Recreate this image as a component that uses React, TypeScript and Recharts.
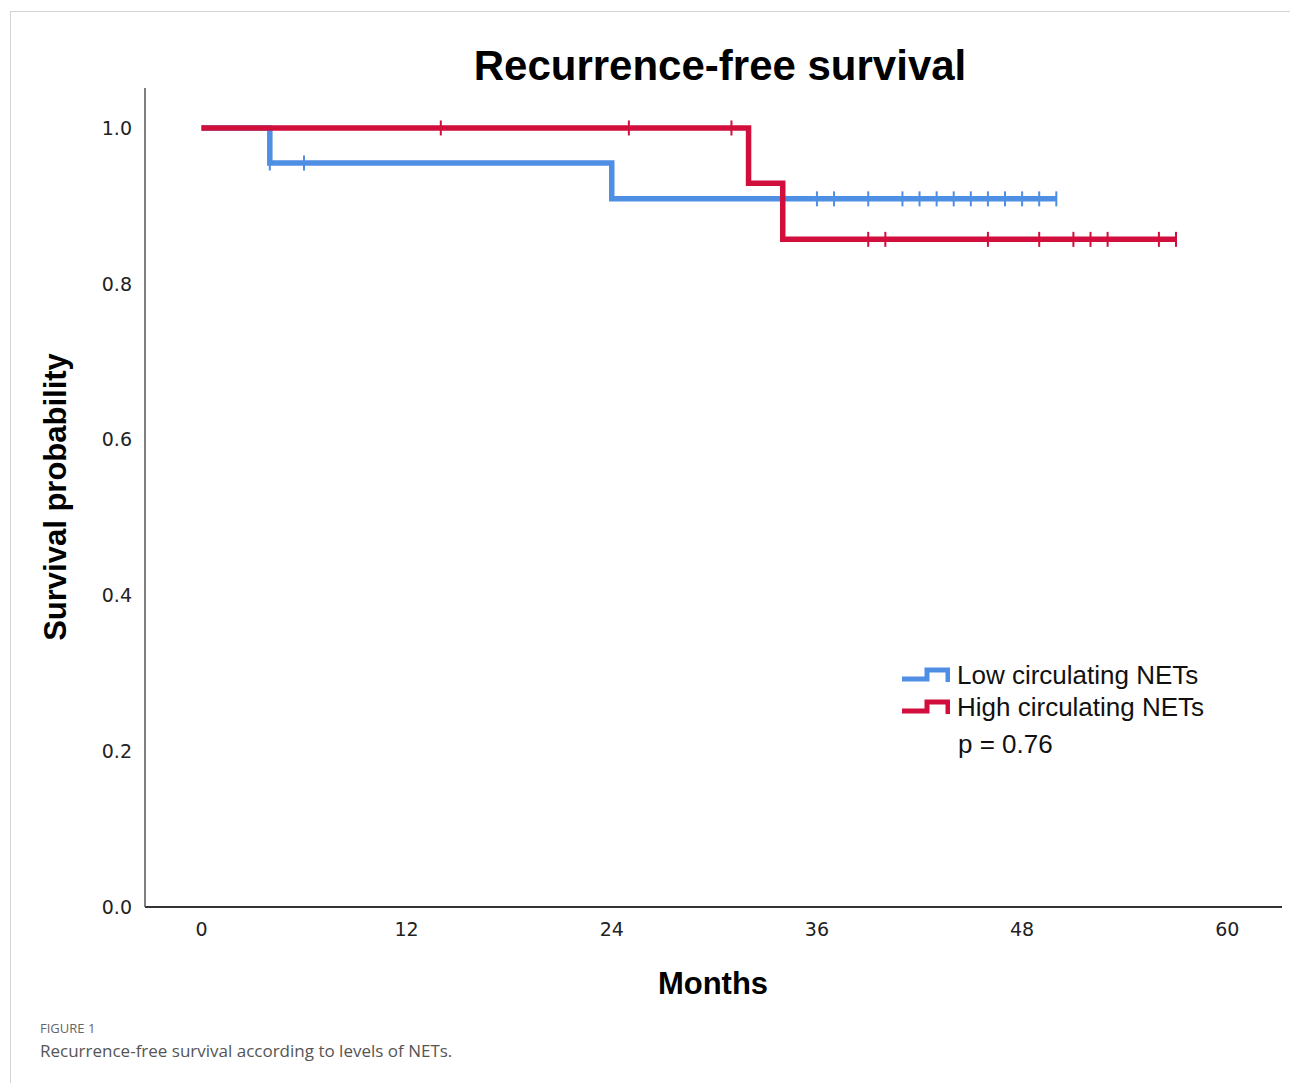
import { ComposedChart, Line, Scatter, XAxis, YAxis } from 'recharts';

// months of follow-up
const monthTicks = [0, 12, 24, 36, 48, 60];
const probTicks = [0, 0.2, 0.4, 0.6, 0.8, 1.0];

const seriesNames = ['Low circulating NETs', 'High circulating NETs'];
const pValueText = 'p = 0.76';

// Low circulating NETs: step changes and censored patients
const lowEventMonths = [0, 4, 24];
const lowSurvival = [1.0, 0.955, 0.909];
const lowCensored = [4, 6, 36, 37, 39, 41, 42, 43, 44, 45, 46, 47, 48, 49, 50];

// High circulating NETs
const highEventMonths = [0, 32, 34];
const highSurvival = [1.0, 0.929, 0.857];
const highCensored = [14, 25, 31, 39, 40, 46, 49, 51, 52, 53, 56, 57];

const BLUE = '#4f8fe3';
const RED = '#d20f3c';

function survivalAt(months: number[], surv: number[], t: number) {
  let s = surv[0];
  months.forEach((m, i) => {
    if (m <= t) s = surv[i];
  });
  return s;
}

function stepData(months: number[], surv: number[], censored: number[]) {
  const last = Math.max(...censored);
  const pts = months.map((m, i) => ({ month: m, p: surv[i] }));
  pts.push({ month: last, p: survivalAt(months, surv, last) });
  return pts;
}

function censorData(months: number[], surv: number[], censored: number[]) {
  return censored.map((m) => ({ month: m, p: survivalAt(months, surv, m) }));
}

const lowLine = stepData(lowEventMonths, lowSurvival, lowCensored);
const highLine = stepData(highEventMonths, highSurvival, highCensored);
const lowMarks = censorData(lowEventMonths, lowSurvival, lowCensored);
const highMarks = censorData(highEventMonths, highSurvival, highCensored);

const censorTick = (color: string) => (props: any) => (
  <line
    x1={props.cx}
    x2={props.cx}
    y1={props.cy - 7.5}
    y2={props.cy + 7.5}
    stroke={color}
    strokeWidth={2}
  />
);

function StepIcon({ color }: { color: string }) {
  return (
    <svg width={50} height={22} style={{ display: 'block' }}>
      <polyline
        points="2,15 27,15 27,6 48,6 48,18"
        fill="none"
        stroke={color}
        strokeWidth={5}
      />
    </svg>
  );
}

const tickStyle = { fill: '#222', fontSize: 19, fontFamily: '"DejaVu Sans", sans-serif' };

export default function App() {
  return (
    <div style={{ position: 'absolute', left: 0, top: 0, width: 1290, height: 1083, background: '#fff' }}>
      <div
        style={{
          position: 'absolute',
          left: 10,
          top: 11,
          width: 1300,
          height: 1100,
          borderTop: '1px solid #d4d4d4',
          borderLeft: '1px solid #d4d4d4',
        }}
      />
      <ComposedChart
        width={1290}
        height={1083}
        margin={{ top: 88, right: 8, left: 85, bottom: 136 }}
        style={{ position: 'absolute', left: 0, top: 0 }}
      >
        <XAxis
          type="number"
          dataKey="month"
          domain={[-3.3, 63.2]}
          ticks={monthTicks}
          allowDataOverflow
          height={40}
          tickLine={false}
          tickSize={0}
          tickMargin={16}
          axisLine={{ stroke: '#333', strokeWidth: 2 }}
          tick={tickStyle}
        />
        <YAxis
          type="number"
          domain={[0, 1.0513]}
          ticks={probTicks}
          allowDataOverflow
          width={60}
          tickLine={false}
          tickSize={0}
          tickMargin={13}
          tickFormatter={(v: number) => v.toFixed(1)}
          axisLine={{ stroke: '#555', strokeWidth: 1.5 }}
          tick={tickStyle}
        />
        <Line
          data={lowLine}
          dataKey="p"
          name={seriesNames[0]}
          type="stepAfter"
          stroke={BLUE}
          strokeWidth={5.5}
          dot={false}
          activeDot={false}
          isAnimationActive={false}
        />
        <Scatter
          data={lowMarks}
          dataKey="p"
          fill={BLUE}
          shape={censorTick(BLUE)}
          isAnimationActive={false}
        />
        <Line
          data={highLine}
          dataKey="p"
          name={seriesNames[1]}
          type="stepAfter"
          stroke={RED}
          strokeWidth={5.5}
          dot={false}
          activeDot={false}
          isAnimationActive={false}
        />
        <Scatter
          data={highMarks}
          dataKey="p"
          fill={RED}
          shape={censorTick(RED)}
          isAnimationActive={false}
        />
      </ComposedChart>

      <div
        style={{
          position: 'absolute',
          left: 900,
          top: 659,
          fontFamily: '"Liberation Sans", Arial, sans-serif',
          fontSize: 26,
          color: '#111',
        }}
      >
        {[BLUE, RED].map((c, i) => (
          <div key={seriesNames[i]} style={{ display: 'flex', alignItems: 'center', height: 32 }}>
            <StepIcon color={c} />
            <span style={{ marginLeft: 7 }}>{seriesNames[i]}</span>
          </div>
        ))}
        <div style={{ marginLeft: 58, marginTop: 6 }}>{pValueText}</div>
      </div>

      <div
        style={{
          position: 'absolute',
          left: 420,
          top: 40,
          width: 600,
          textAlign: 'center',
          fontFamily: '"Liberation Sans", Arial, sans-serif',
          fontWeight: 'bold',
          fontSize: 42,
          color: '#000',
          lineHeight: '52px',
        }}
      >
        Recurrence-free survival
      </div>
      <div
        style={{
          position: 'absolute',
          left: 56,
          top: 497,
          transform: 'translate(-50%, -50%) rotate(-90deg)',
          whiteSpace: 'nowrap',
          fontFamily: '"Liberation Sans", Arial, sans-serif',
          fontWeight: 'bold',
          fontSize: 31,
          color: '#000',
        }}
      >
        Survival probability
      </div>
      <div
        style={{
          position: 'absolute',
          left: 513,
          top: 966,
          width: 400,
          textAlign: 'center',
          fontFamily: '"Liberation Sans", Arial, sans-serif',
          fontWeight: 'bold',
          fontSize: 31,
          color: '#000',
        }}
      >
        Months
      </div>
      <div
        style={{
          position: 'absolute',
          left: 40,
          top: 1019,
          fontFamily: '"Open Sans", sans-serif',
          fontSize: 13,
          color: '#666',
        }}
      >
        FIGURE 1
      </div>
      <div
        style={{
          position: 'absolute',
          left: 40,
          top: 1039,
          fontFamily: '"Open Sans", sans-serif',
          fontSize: 17,
          color: '#555',
        }}
      >
        Recurrence-free survival according to levels of NETs.
      </div>
    </div>
  );
}
